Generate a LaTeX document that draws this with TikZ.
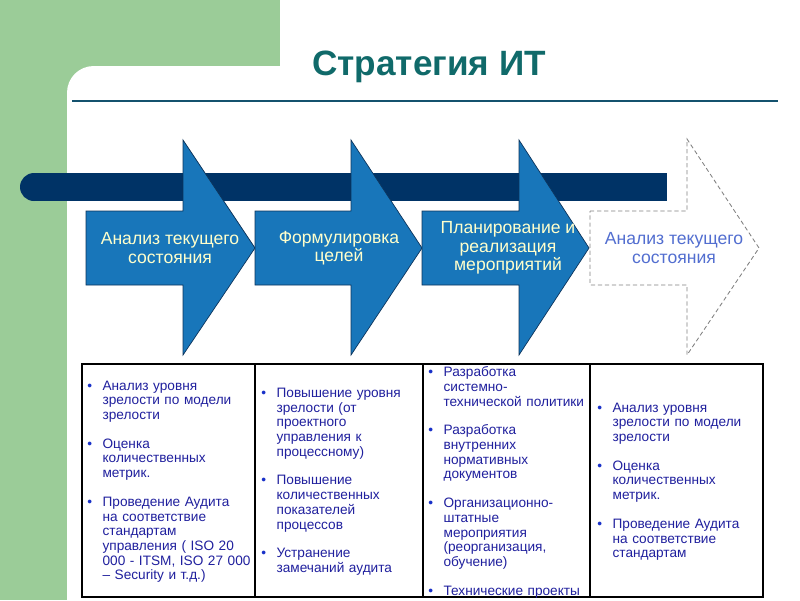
\documentclass[tikz,border=0pt]{standalone}
\usepackage{fontspec}
\setmainfont{Liberation Sans}
\definecolor{panelgreen}{RGB}{155,204,152}
\definecolor{titleteal}{RGB}{16,106,106}
\definecolor{ruleteal}{RGB}{20,82,110}
\definecolor{barnavy}{RGB}{0,51,102}
\definecolor{stageblue}{RGB}{24,118,186}
\definecolor{stageedge}{RGB}{12,52,92}
\definecolor{stagetext}{RGB}{255,255,204}
\definecolor{nexttext}{RGB}{82,110,208}
\definecolor{cellink}{RGB}{32,32,158}
\definecolor{bulletblue}{RGB}{24,48,200}
\newcommand{\cellitem}[1]{\par\hangindent=10.9pt\hangafter=1\noindent\hbox to 10.9pt{\textcolor{bulletblue}{\textbullet}\hfil}#1\par}
\newcommand{\cellgap}{\vspace{10pt}}
\begin{document}
\begin{tikzpicture}[x=0.025cm, y=-0.025cm,
    stagebox/.style={fill=stageblue, draw=stageedge, line width=0.5pt},
    nextbox/.style={fill=white, draw=gray, line width=0.6pt, dash pattern=on 3pt off 2pt},
    stagelabel/.style={text=stagetext, align=center, font=\fontsize{12.5}{13.2}\selectfont},
    cell/.style={anchor=west, inner sep=0pt, text width=130pt, align=left, text=cellink, font=\fontsize{9.7}{10.45}\selectfont}]
    \useasboundingbox (0,0) rectangle (800,600);
    % background panel
    \fill[panelgreen] (0,0) rectangle (280,600);
    \fill[white, rounded corners=19pt] (67,66) rectangle (830,640);
    \node[anchor=base, text=titleteal, font=\bfseries\fontsize{25}{30}\selectfont] (title) at (429,75) {Стратегия ИТ};
    \draw[ruleteal, line width=1.3pt] (72,101) -- (778,101);
    % time bar
    \fill[barnavy] (34,187) circle [radius=14];
    \fill[barnavy] (34,173) rectangle (667,201);
    % stages
    \draw[stagebox] (86,211) -- (183,211) -- (183,140) -- (255,248) -- (183,355) -- (183,285) -- (86,285) -- cycle;
    \draw[stagebox] (255,211) -- (351,211) -- (351,140) -- (422,248) -- (351,355) -- (351,285) -- (255,285) -- cycle;
    \draw[stagebox] (422,211) -- (519,211) -- (519,140) -- (589,248) -- (519,355) -- (519,285) -- (422,285) -- cycle;
    \draw[nextbox] (590,211) -- (687,211) -- (687,139) -- (759,248) -- (687,355) -- (687,285) -- (590,285) -- cycle;
    \node[stagelabel] (stageA) at (170,248) {Анализ текущего\\состояния};
    \node[stagelabel] (stageB) at (339,248) {Формулировка\\целей};
    \node[stagelabel] (stageC) at (508,248) {Планирование и\\реализация\\мероприятий};
    \node[stagelabel, text=nexttext] (stageD) at (674,248) {Анализ текущего\\состояния};
    % table
    \draw[line width=0.8pt] (82,364) rectangle (763,597);
    \draw[line width=0.8pt] (255,364) -- (255,597);
    \draw[line width=0.8pt] (423,364) -- (423,597);
    \draw[line width=0.8pt] (590,364) -- (590,597);
    \node[cell] (cellA) at (87,479) {%
      \cellitem{Анализ уровня\newline зрелости по модели\newline зрелости}\cellgap
      \cellitem{Оценка\newline количественных\newline метрик.}\cellgap
      \cellitem{Проведение Аудита\newline на соответствие\newline стандартам\newline управления ( ISO 20\newline 000 - ITSM, ISO 27 000\newline – Security и т.д.)}};
    \node[cell] (cellB) at (261,479) {%
      \cellitem{Повышение уровня\newline зрелости (от\newline проектного\newline управления к\newline процессному)}\cellgap
      \cellitem{Повышение\newline количественных\newline показателей\newline процессов}\cellgap
      \cellitem{Устранение\newline замечаний аудита}};
    \node[cell] (cellC) at (428,480) {%
      \cellitem{Разработка\newline системно-\newline технической политики}\cellgap
      \cellitem{Разработка\newline внутренних\newline нормативных\newline документов}\cellgap
      \cellitem{Организационно-\newline штатные\newline мероприятия\newline (реорганизация,\newline обучение)}\cellgap
      \cellitem{Технические проекты}};
    \node[cell] (cellD) at (597,479) {%
      \cellitem{Анализ уровня\newline зрелости по модели\newline зрелости}\cellgap
      \cellitem{Оценка\newline количественных\newline метрик.}\cellgap
      \cellitem{Проведение Аудита\newline на соответствие\newline стандартам}};
\end{tikzpicture}
\end{document}
